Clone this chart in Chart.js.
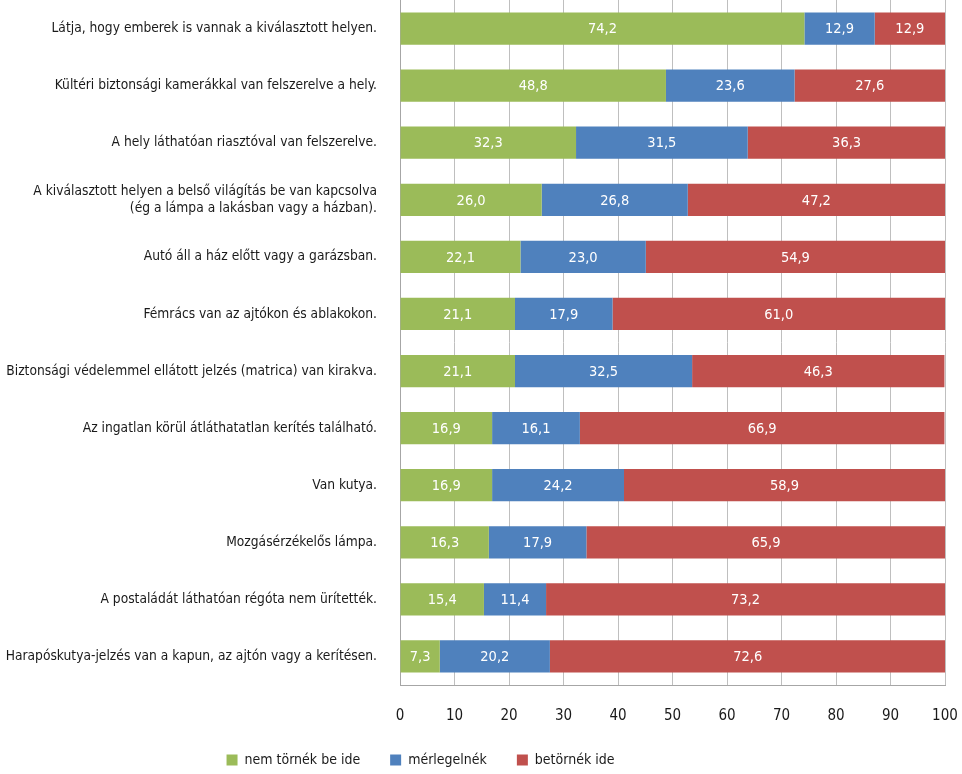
<!DOCTYPE html>
<html>
<head>
<meta charset="utf-8">
<script src="https://cdn.jsdelivr.net/npm/chart.js@4.4.0/dist/chart.umd.min.js"></script>
<style>
  html, body { margin: 0; padding: 0; background: #fff; }
  #wrap { width: 962px; height: 774px; }
</style>
</head>
<body>
<div id="wrap"><canvas id="c" width="962" height="774"></canvas></div>
<script>
  const categories = [
    "Látja, hogy emberek is vannak a kiválasztott helyen.",
    "Kültéri biztonsági kamerákkal van felszerelve a hely.",
    "A hely láthatóan riasztóval van felszerelve.",
    ["A kiválasztott helyen a belső világítás be van kapcsolva", "(ég a lámpa a lakásban vagy a házban)."],
    "Autó áll a ház előtt vagy a garázsban.",
    "Fémrács van az ajtókon és ablakokon.",
    "Biztonsági védelemmel ellátott jelzés (matrica) van kirakva.",
    "Az ingatlan körül átláthatatlan kerítés található.",
    "Van kutya.",
    "Mozgásérzékelős lámpa.",
    "A postaládát láthatóan régóta nem ürítették.",
    "Harapóskutya-jelzés van a kapun, az ajtón vagy a kerítésen."
  ];
  const nemTornek = [74.2, 48.8, 32.3, 26.0, 22.1, 21.1, 21.1, 16.9, 16.9, 16.3, 15.4, 7.3];
  const merlegelnek = [12.9, 23.6, 31.5, 26.8, 23.0, 17.9, 32.5, 16.1, 24.2, 17.9, 11.4, 20.2];
  const betornek = [12.9, 27.6, 36.3, 47.2, 54.9, 61.0, 46.3, 66.9, 58.9, 65.9, 73.2, 72.6];
  const seriesNames = ["nem törnék be ide", "mérlegelnék", "betörnék ide"];

  const FONT = "'DejaVu Sans Condensed', 'Liberation Sans Narrow', 'Roboto', sans-serif";
  const green = "#9bbb59", blue = "#4f81bd", red = "#c0504d";

  // white value labels centred in each segment, Hungarian decimal comma
  const valueLabels = {
    id: "valueLabels",
    afterDatasetsDraw(chart) {
      const ctx = chart.ctx;
      ctx.save();
      ctx.fillStyle = "#ffffff";
      ctx.font = "14.5px " + FONT;
      ctx.textAlign = "center";
      ctx.textBaseline = "middle";
      chart.data.datasets.forEach((ds, i) => {
        chart.getDatasetMeta(i).data.forEach((bar, j) => {
          const p = bar.getProps(["x", "y", "base"], true);
          ctx.fillText(ds.data[j].toFixed(1).replace(".", ","), (p.x + p.base) / 2, p.y + 1);
        });
      });
      ctx.restore();
    }
  };

  // legend sits a bit left of the canvas centre in the original
  const shiftLegend = {
    id: "shiftLegend",
    afterLayout(chart) {
      const lg = chart.legend;
      lg.left -= 52;
      lg.right -= 52;
    }
  };

  Chart.defaults.font.family = FONT;
  Chart.defaults.color = "#1a1a1a";

  new Chart(document.getElementById("c"), {
    type: "bar",
    data: {
      labels: categories,
      datasets: [
        { label: seriesNames[0], data: nemTornek, backgroundColor: green },
        { label: seriesNames[1], data: merlegelnek, backgroundColor: blue },
        { label: seriesNames[2], data: betornek, backgroundColor: red }
      ]
    },
    options: {
      indexAxis: "y",
      responsive: false,
      animation: false,
      barPercentage: 0.566,
      categoryPercentage: 1,
      layout: { padding: { left: 0, right: 17, top: -4, bottom: -3 } },
      plugins: {
        legend: {
          position: "bottom",
          labels: {
            boxWidth: 11,
            boxHeight: 11,
            padding: 30,
            color: "#1a1a1a",
            font: { size: 14 }
          }
        },
        tooltip: { enabled: false }
      },
      scales: {
        x: {
          stacked: true,
          min: 0,
          max: 100,
          afterFit(scale) {
            scale.height = 38;
            scale.paddingLeft = 0;
            scale.paddingRight = 0;
          },
          ticks: { stepSize: 10, padding: 22, color: "#1a1a1a", font: { size: 15 } },
          grid: { color: "#bfbfbf", drawTicks: false, lineWidth: 1 },
          border: { color: "#a6a6a6" }
        },
        y: {
          stacked: true,
          afterFit(scale) {
            scale.width = 400;
            scale.paddingTop = 0;
            scale.paddingBottom = 0;
          },
          ticks: { padding: 15, color: "#1a1a1a", font: { size: 13.7 } },
          grid: { display: false },
          border: { color: "#a6a6a6" }
        }
      }
    },
    plugins: [valueLabels, shiftLegend]
  });
</script>
</body>
</html>
